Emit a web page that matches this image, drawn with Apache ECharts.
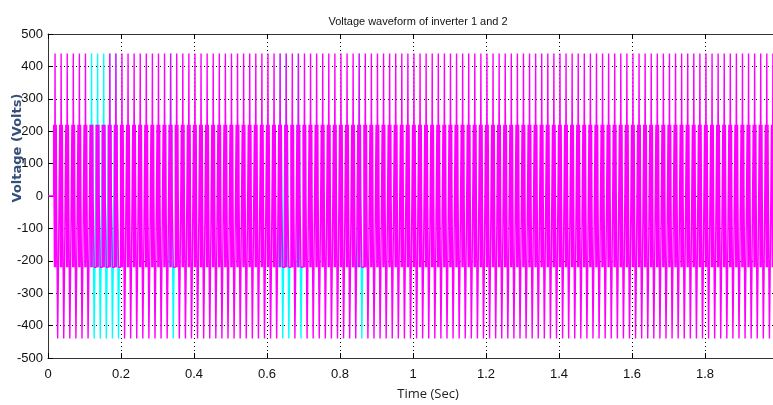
<!DOCTYPE html>
<html>
<head>
<meta charset="utf-8">
<script src="https://cdn.jsdelivr.net/npm/echarts@6/dist/echarts.min.js"></script>
<style>
html,body{margin:0;padding:0;background:#fff;}
#c{width:773px;height:405px;}
</style>
</head>
<body>
<div id="c"></div>
<script>
// ---- data ----
const chartTitle = 'Voltage waveform of inverter 1 and 2';
const xName = 'Time (Sec)';
const yName = 'Voltage (Volts)';
const xTicks = [0, 0.2, 0.4, 0.6, 0.8, 1, 1.2, 1.4, 1.6, 1.8, 2];
const yTicks = [-500, -400, -300, -200, -100, 0, 100, 200, 300, 400, 500];
// output switching pattern within one fundamental cycle (60 Hz)
const fundamentalHz = 60;
const firstCycleStartS = 0.0144;
const cycleCount = 120;
const edgeOffsetMs = [1.10, 3.29, 4.93, 6.30, 8.22, 9.04, 12.05, 14.25];
const edgeLevelV  = [220, -220, 440, -220, 220, 0, -440, -220];
// cycles where inverter 1 does not reach the peak level, so inverter 2 shows
const inv1NoPositivePeak = [6, 7, 8];
const inv1NoNegativePeak = [6, 7, 8, 9, 10, 19, 37, 38, 40, 50];

function buildWave(skipPos, skipNeg, onlyCycles) {
  const pts = [[0, 0]];
  let level = 0;
  for (let k = 0; k < cycleCount; k++) {
    const t0 = firstCycleStartS + k / fundamentalHz;
    const keep = !onlyCycles || onlyCycles.indexOf(k) >= 0;
    if (onlyCycles && !keep) { if (pts.length && pts[pts.length - 1] !== null) pts.push(null); }
    for (let i = 0; i < edgeOffsetMs.length; i++) {
      let v = edgeLevelV[i];
      if (v === 440 && skipPos.indexOf(k) >= 0) v = 220;
      if (v === -440 && skipNeg.indexOf(k) >= 0) v = -220;
      const t = t0 + edgeOffsetMs[i] / 1000;
      if (t > 2) break;
      if (keep) pts.push([t, level], [t, v]);
      level = v;
    }
  }
  pts.push([2, level]);
  return pts;
}
// inverter 1 (magenta) is drawn over inverter 2 (cyan); inverter 2 is only
// visible in the cycles where inverter 1 misses a peak
const inverter1 = buildWave(inv1NoPositivePeak, inv1NoNegativePeak, null);
const inv2Visible = inv1NoPositivePeak.concat(inv1NoNegativePeak);
const inverter2 = buildWave([], [], inv2Visible).map(p => (p && p[0] === 2 ? null : p));

const sans = '"Liberation Sans", Arial, sans-serif';
const chart = echarts.init(document.getElementById('c'), null, {renderer: 'canvas'});
chart.setOption({
  animation: false,
  backgroundColor: '#ffffff',
  title: {
    text: chartTitle, left: 413, top: 11, textAlign: 'center',
    textStyle: {fontFamily: sans, fontSize: 11, fontWeight: 'normal', color: '#111'}
  },
  grid: {left: 48, top: 34, width: 730, height: 324, show: false, containLabel: false, outerBoundsMode: 'none'},
  xAxis: [{
    type: 'value', min: 0, max: 2, interval: 0.2, position: 'bottom',
    name: xName, nameLocation: 'middle', nameGap: 30, nameMoveOverlap: false,
    nameTextStyle: {fontFamily: '"Open Sans", sans-serif', fontSize: 13, color: '#222', padding: [0, 0, 0, 30]},
    axisLine: {show: true, onZero: false, lineStyle: {color: '#333', width: 1}},
    axisTick: {show: true, inside: true, length: 5, lineStyle: {color: '#000'}},
    axisLabel: {fontFamily: sans, fontSize: 13, color: '#111', margin: 10,
      formatter: v => (xTicks.indexOf(+v.toFixed(1)) >= 0 ? String(+v.toFixed(1)) : '')},
    splitLine: {show: true, lineStyle: {color: '#000', type: [1, 3], width: 1}}
  }, {
    type: 'value', min: 0, max: 2, interval: 0.2, position: 'top',
    axisLine: {show: true, onZero: false, lineStyle: {color: '#333', width: 1}},
    axisTick: {show: true, inside: true, length: 5, lineStyle: {color: '#000'}},
    axisLabel: {show: false}, splitLine: {show: false}
  }],
  yAxis: [{
    type: 'value', min: -500, max: 500, interval: 100,
    name: yName, nameLocation: 'middle', nameGap: 24, nameRotate: 90, nameMoveOverlap: false,
    nameTextStyle: {fontFamily: '"DejaVu Sans", sans-serif', fontSize: 13, fontWeight: 'bold', color: '#34507a', padding: [0, 0, 0, 96]},
    axisLine: {show: true, onZero: false, lineStyle: {color: '#333', width: 1}},
    axisTick: {show: true, inside: true, length: 5, lineStyle: {color: '#000'}},
    axisLabel: {fontFamily: sans, fontSize: 13, color: '#111', margin: 5,
      formatter: v => (yTicks.indexOf(v) >= 0 ? String(v) : '')},
    splitLine: {show: true, lineStyle: {color: '#000', type: [1, 3], width: 1}}
  }],
  series: [{
    name: 'Inverter 2', type: 'line', data: inverter2, showSymbol: false, symbol: 'none',
    connectNulls: false, lineStyle: {color: '#00ffff', width: 1.4}, z: 3, clip: true
  }, {
    name: 'Inverter 1', type: 'line', data: inverter1, showSymbol: false, symbol: 'none',
    lineStyle: {color: '#ff00ff', width: 1.4}, z: 4, clip: true
  }]
});
</script>
</body>
</html>
